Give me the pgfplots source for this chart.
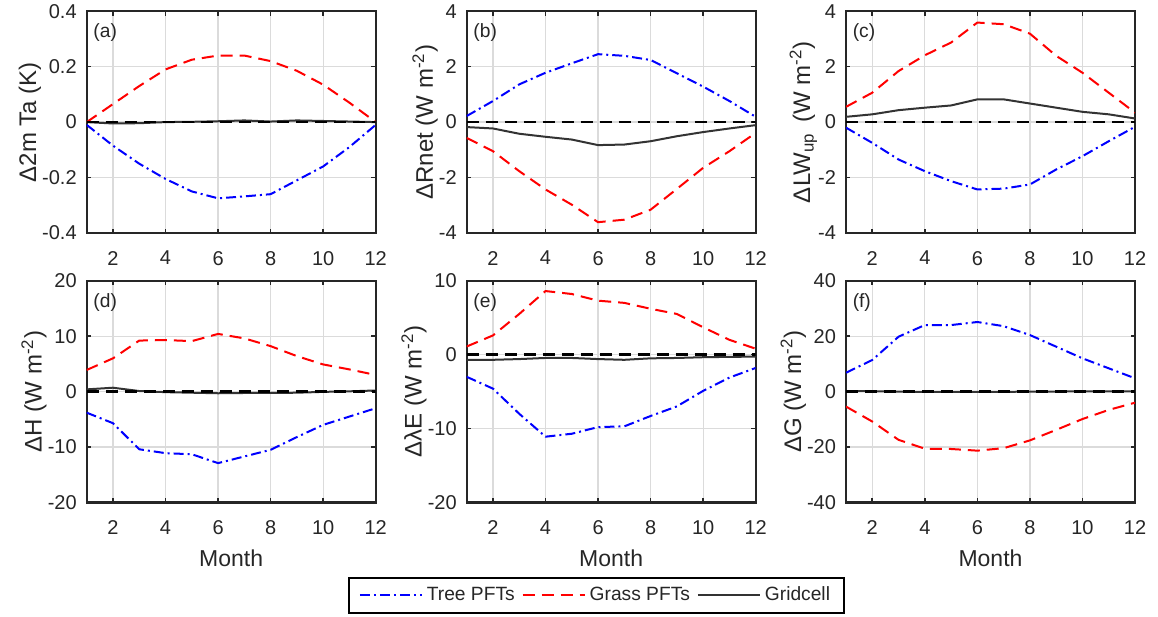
\documentclass[border=0pt]{standalone}
\usepackage{fontspec}
\setmainfont{Liberation Sans}
\usepackage{pgfplots}
\usepackage{pgfplotstable}
\pgfplotsset{compat=1.18}

\definecolor{axgray}{gray}{0.15}
\definecolor{gridgray}{gray}{0.86}

% monthly anomalies: tree PFTs, grass PFTs, grid cell
\pgfplotstableread{
m tree grass cell
1 -0.010 0.000 0.000
2 -0.085 0.065 -0.005
3 -0.150 0.130 -0.004
4 -0.205 0.190 0.000
5 -0.250 0.225 0.001
6 -0.275 0.240 0.003
7 -0.268 0.240 0.006
8 -0.260 0.220 0.002
9 -0.210 0.185 0.006
10 -0.160 0.135 0.004
11 -0.090 0.070 0.002
12 -0.010 0.000 0.000
}\tablea
\pgfplotstableread{
m tree grass cell
1 0.22 -0.57 -0.18
2 0.76 -1.05 -0.23
3 1.36 -1.77 -0.42
4 1.78 -2.43 -0.53
5 2.12 -2.98 -0.63
6 2.45 -3.61 -0.83
7 2.39 -3.52 -0.81
8 2.24 -3.16 -0.69
9 1.76 -2.41 -0.51
10 1.28 -1.65 -0.36
11 0.76 -1.05 -0.23
12 0.19 -0.39 -0.11
}\tableb
\pgfplotstableread{
m tree grass cell
1 -0.20 0.55 0.19
2 -0.75 1.06 0.28
3 -1.35 1.84 0.43
4 -1.77 2.41 0.52
5 -2.13 2.87 0.60
6 -2.43 3.59 0.82
7 -2.40 3.53 0.82
8 -2.25 3.19 0.67
9 -1.71 2.39 0.52
10 -1.23 1.78 0.37
11 -0.69 1.06 0.28
12 -0.17 0.34 0.13
}\tablec
\pgfplotstableread{
m tree grass cell
1 -3.8 3.9 0.4
2 -5.7 6.0 0.7
3 -10.4 9.2 0.1
4 -11.1 9.3 -0.1
5 -11.3 9.1 -0.2
6 -12.9 10.4 -0.3
7 -11.7 9.6 -0.25
8 -10.5 8.2 -0.25
9 -8.2 6.4 -0.2
10 -6.0 4.9 -0.05
11 -4.5 4.0 0.05
12 -3.0 3.0 0.2
}\tabled
\pgfplotstableread{
m tree grass cell
1 -3.0 1.1 -0.7
2 -4.6 2.6 -0.7
3 -8.0 5.5 -0.6
4 -11.1 8.6 -0.45
5 -10.7 8.2 -0.45
6 -9.8 7.3 -0.6
7 -9.7 7.0 -0.7
8 -8.3 6.2 -0.5
9 -7.0 5.5 -0.45
10 -4.9 3.7 -0.35
11 -3.1 2.0 -0.3
12 -1.8 0.8 -0.27
}\tablee
\pgfplotstableread{
m tree grass cell
1 6.8 -5.4 0.2
2 11.4 -10.8 0.1
3 19.8 -17.4 0.0
4 24.0 -20.6 -0.1
5 24.0 -20.7 -0.1
6 25.1 -21.3 -0.1
7 23.6 -20.4 -0.1
8 20.4 -17.6 0.0
9 16.2 -13.8 0.0
10 12.0 -9.9 0.1
11 8.4 -6.6 0.1
12 4.8 -4.0 0.1
}\tablef

\pgfplotsset{
  panel/.style={
    scale only axis, width=144.5bp, height=110.9bp,
    anchor=south west,
    xmin=1, xmax=12, xtick={2,4,...,12},
    grid=major, major grid style={gridgray, line width=0.6bp},
    tick align=inside, major tick length=2.2bp,
    axis line style={axgray, line width=1.1bp},
    tick style={axgray, line width=0.8bp},
    /pgf/number format/assume math mode=true,
    tick label style={font=\fontsize{10bp}{12bp}\selectfont, text=axgray},
    xticklabel style={yshift=-5.5bp},
    yticklabel style={xshift=-1.5bp},
    ylabel style={font=\fontsize{12bp}{14bp}\selectfont, text=axgray,
      inner sep=0pt, outer sep=-2.8bp},
    xlabel style={at={(axis description cs:0.5,-0.213)}, anchor=north,
      font=\fontsize{11.5bp}{13bp}\selectfont, text=axgray, inner sep=0pt},
  },
  tree/.style={blue, line width=1bp, dash pattern=on 5bp off 2bp on 1bp off 2bp},
  grass/.style={red, line width=1bp, dash pattern=on 6bp off 3.5bp},
  cell/.style={black!80, line width=1bp},
  zero/.style={black, line width=1.3bp, dash pattern=on 6bp off 3.5bp},
}

\newcommand\panelplots[2]{%
  \addplot[tree] table[x=m, y=tree] {#1};
  \addplot[grass] table[x=m, y=grass] {#1};
  \addplot[cell] table[x=m, y=cell] {#1};
  \addplot[zero, forget plot] coordinates {(1,0) (12,0)};
  \node[anchor=west, inner sep=0pt, text=axgray, font=\fontsize{9.6bp}{11bp}\selectfont]
    at (rel axis cs:0.022,0.903) {#2};
}

\begin{document}
\begin{tikzpicture}
\useasboundingbox (0,0) rectangle (579bp,308.5bp);

% top row
\begin{axis}[panel, at={(43.35bp,192bp)},
  ymin=-0.4, ymax=0.4, ytick={-0.4,-0.2,0,0.2,0.4},
  ylabel={Δ2m Ta (K)}]
\panelplots{\tablea}{(a)}
\end{axis}

\begin{axis}[panel, at={(233.35bp,192bp)},
  ymin=-4, ymax=4, ytick={-4,-2,0,2,4},
  ylabel={ΔRnet (W m\textsuperscript{-2})}]
\panelplots{\tableb}{(b)}
\end{axis}

\begin{axis}[panel, at={(423bp,192bp)},
  ymin=-4, ymax=4, ytick={-4,-2,0,2,4},
  ylabel={ΔLW\textsubscript{up}\, (W m\textsuperscript{-2})}]
\panelplots{\tablec}{(c)}
\end{axis}

% bottom row
\begin{axis}[panel, at={(43.35bp,57.25bp)},
  ymin=-20, ymax=20, ytick={-20,-10,0,10,20},
  xlabel={Month}, ylabel={ΔH (W m\textsuperscript{-2})}]
\panelplots{\tabled}{(d)}
\end{axis}

\begin{axis}[panel, at={(233.35bp,57.25bp)},
  ymin=-20, ymax=10, ytick={-20,-10,0,10},
  xlabel={Month}, ylabel={ΔλE (W m\textsuperscript{-2})},
  legend columns=3,
  legend image code/.code={\draw[#1] (0bp,0bp) -- (31bp,0bp);},
  legend style={at={(axis description cs:0.449,-0.418)}, anchor=center,
    draw=black, line width=1bp, fill=white, inner xsep=5bp, inner ysep=2.5bp,
    font=\fontsize{9.6bp}{11bp}\selectfont, text=axgray,
    /tikz/every even column/.append style={column sep=1.5bp}}]
\panelplots{\tablee}{(e)}
\legend{Tree PFTs, Grass PFTs, Gridcell}
\end{axis}

\begin{axis}[panel, at={(423bp,57.25bp)},
  ymin=-40, ymax=40, ytick={-40,-20,0,20,40},
  xlabel={Month}, ylabel={ΔG (W m\textsuperscript{-2})}]
\panelplots{\tablef}{(f)}
\end{axis}
\end{tikzpicture}
\end{document}
